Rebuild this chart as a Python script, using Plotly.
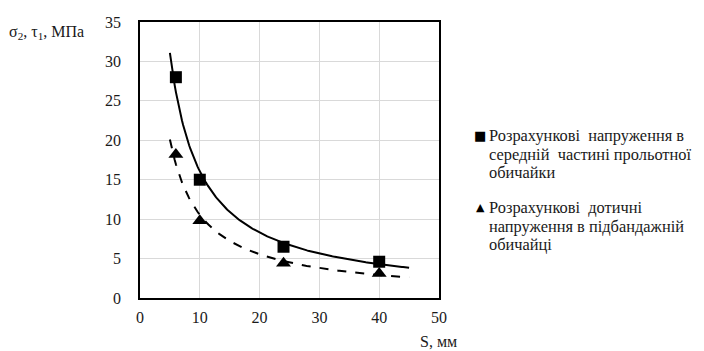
import numpy as np
import plotly.graph_objects as go

s_points = [6, 10, 24, 40]
sigma_vals = [28.0, 15.0, 6.5, 4.6]
tau_vals = [18.2, 9.8, 4.4, 3.1]
trend_range = [5, 45]
x_ticks = [0, 10, 20, 30, 40, 50]
y_ticks = [0, 5, 10, 15, 20, 25, 30, 35]

legend1_lines = ["Розрахункові  напруження в", "середній  частині прольотної", "обичайки"]
legend2_lines = ["Розрахункові  дотичні", "напруження в підбандажній", "обичайці"]


def power_fit(x, y):
    b, ln_a = np.polyfit(np.log(x), np.log(y), 1)
    xs = np.linspace(trend_range[0], trend_range[1], 200)
    return xs, np.exp(ln_a) * xs ** b


font = "Liberation Serif"
txt = "#1a1a1a"
fig = go.Figure()

xs1, ys1 = power_fit(s_points, sigma_vals)
xs2, ys2 = power_fit(s_points, tau_vals)

fig.add_trace(go.Scatter(x=xs1, y=ys1, mode="lines", line=dict(color="black", width=2),
                         showlegend=False, hoverinfo="skip"))
fig.add_trace(go.Scatter(x=xs2, y=ys2, mode="lines", line=dict(color="black", width=2, dash="dash"),
                         showlegend=False, hoverinfo="skip"))
fig.add_trace(go.Scatter(x=s_points, y=sigma_vals, mode="markers", name=" ".join(legend1_lines),
                         showlegend=False, marker=dict(symbol="square", size=12, color="black")))
fig.add_trace(go.Scatter(x=s_points, y=tau_vals, mode="markers", name=" ".join(legend2_lines),
                         showlegend=False, marker=dict(symbol="triangle-up", size=13, color="black")))


def px(xw):
    return (xw - 140) / 299.0


def py(yw):
    return (298 - yw) / 284.0


ann = [
    dict(text="σ<sub>2</sub>, τ<sub>1</sub>, МПа", x=px(7), y=py(25), xanchor="left",
         yanchor="middle", font=dict(family=font, size=16, color=txt)),
    dict(text="S, мм", x=px(438), y=py(343), xanchor="center", yanchor="middle",
         font=dict(family=font, size=16, color=txt)),
    dict(text="■", x=px(480), y=py(131), xanchor="center", yanchor="middle",
         font=dict(family="DejaVu Sans", size=13, color="black")),
    dict(text="▲", x=px(480), y=py(205), xanchor="center", yanchor="middle",
         font=dict(family="DejaVu Sans", size=11, color="black")),
]
for i, line in enumerate(legend1_lines):
    ann.append(dict(text=line, x=px(487), y=py(131 + 19 * i), xanchor="left", yanchor="middle",
                    font=dict(family=font, size=16.4, color=txt)))
for i, line in enumerate(legend2_lines):
    ann.append(dict(text=line, x=px(487), y=py(205 + 19 * i), xanchor="left", yanchor="middle",
                    font=dict(family=font, size=16.4, color=txt)))
for a in ann:
    a.update(xref="paper", yref="paper", showarrow=False)

fig.update_layout(
    width=696, height=343,
    margin=dict(l=132, r=265, t=6, b=53),
    paper_bgcolor="white", plot_bgcolor="white",
    font=dict(family=font, size=16, color=txt),
    showlegend=False,
    annotations=ann,
)
fig.update_xaxes(range=[0, 50], tickvals=x_ticks, showgrid=True, gridcolor="#d9d9d9",
                 showline=True, linecolor="black", linewidth=1.5, mirror=True,
                 zeroline=False, ticks="", tickfont=dict(size=16), ticklabelstandoff=4,
                 ticklabeloverflow="allow")
fig.update_yaxes(range=[0, 35], tickvals=y_ticks, showgrid=True, gridcolor="#d9d9d9",
                 showline=True, linecolor="black", linewidth=1.5, mirror=True,
                 zeroline=False, ticks="", tickfont=dict(size=16), ticklabelstandoff=14,
                 ticklabeloverflow="allow")

fig.write_html("out.html")
